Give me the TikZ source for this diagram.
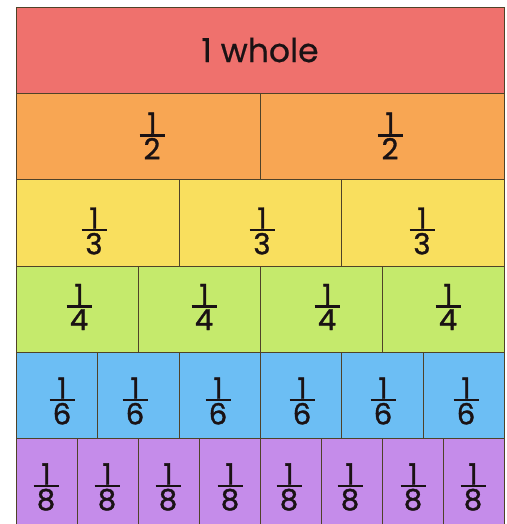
\documentclass[tikz,border=0pt]{standalone}
\usepackage{fontspec}
\setmainfont{Poppins}
\newfontfamily\medfont{Poppins}[FakeBold=1.2]
\newfontfamily\wholefont{Poppins}[FakeBold=0.5]
\definecolor{cred}{HTML}{EF716D}
\definecolor{corange}{HTML}{F8A653}
\definecolor{cyellow}{HTML}{F9DF5E}
\definecolor{cgreen}{HTML}{C5EA6C}
\definecolor{cblue}{HTML}{6CBEF4}
\definecolor{cpurple}{HTML}{C58CEA}
\definecolor{lc}{HTML}{4F4228}
\definecolor{tc}{HTML}{1A1214}
\newcommand{\fr}[1]{\vbox{\offinterlineskip\halign{\hfil##\hfil\cr\hbox to 25pt{\hfil 1\hfil}\cr\noalign{\kern0.5pt\hrule height 2.4pt\kern1.5pt}#1\cr}}}
\begin{document}
\begin{tikzpicture}[x=1pt,y=-1pt,
  cell/.style={draw=lc,line width=0.9pt,inner sep=0pt,anchor=north west,minimum height=86.17pt},
  frac/.style={inner sep=0pt,text=tc,font=\medfont\fontsize{29}{34}\selectfont}]
\useasboundingbox[fill=white] (0,0) rectangle (506,524);
% rows of cells
\node[cell,fill=cred,minimum width=488pt] (whole) at (16,7) {};
\foreach \i in {0,1} \node[cell,fill=corange,minimum width=244pt] (h\i) at ({16+244*\i},93.17) {};
\foreach \i in {0,1,2} \node[cell,fill=cyellow,minimum width=162.67pt] (t\i) at ({16+162.67*\i},179.33) {};
\foreach \i in {0,...,3} \node[cell,fill=cgreen,minimum width=122pt] (q\i) at ({16+122*\i},265.5) {};
\foreach \i in {0,...,5} \node[cell,fill=cblue,minimum width=81.33pt] (s\i) at ({16+81.33*\i},351.67) {};
\foreach \i in {0,...,7} \node[cell,fill=cpurple,minimum width=61pt] (e\i) at ({16+61*\i},437.83) {};
% labels
\node[inner sep=0pt,text=tc,font=\wholefont\fontsize{33}{40}\selectfont] (wholelabel) at (260,50) {1 whole};
\foreach \x [count=\i] in {152,390} \node[frac] (fh\i) at (\x,136) {\fr{2}};
\foreach \x [count=\i] in {94,262,422} \node[frac] (ft\i) at (\x,231) {\fr{3}};
\foreach \x [count=\i] in {79,204,327,448} \node[frac] (fq\i) at (\x,307) {\fr{4}};
\foreach \x [count=\i] in {62,135,218,302,383,466} \node[frac] (fs\i) at (\x,401) {\fr{6}};
\foreach \x [count=\i] in {46,107,168,230,289,350,413,473} \node[frac] (fe\i) at (\x,487) {\fr{8}};
\end{tikzpicture}
\end{document}
